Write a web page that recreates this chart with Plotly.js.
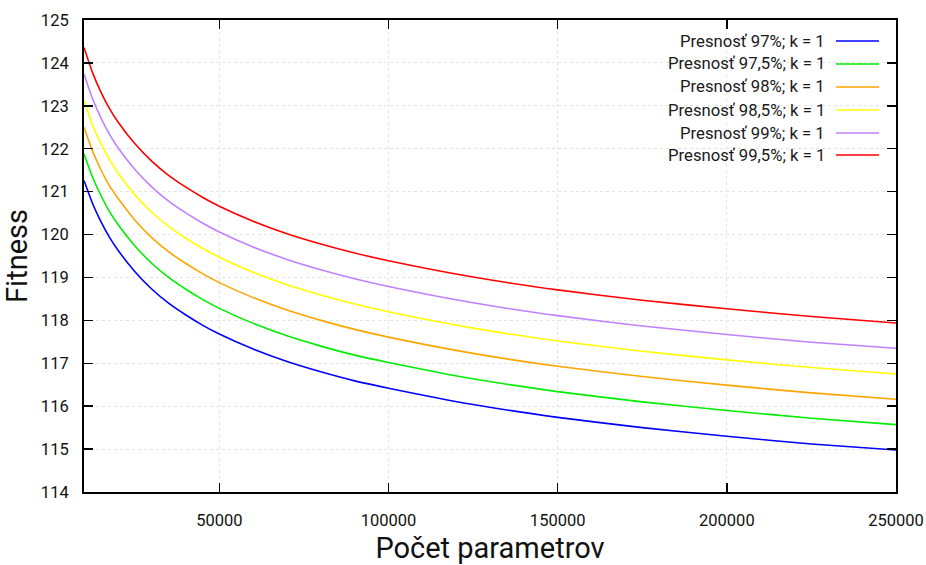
<!DOCTYPE html>
<html>
<head>
<meta charset="utf-8">
<script src="https://cdn.plot.ly/plotly-3.0.1.min.js"></script>
<style>html,body{margin:0;padding:0;background:#fff;}#chart{width:926px;height:565px;}</style>
</head>
<body>
<div id="chart"></div>
<script>
// Data
const params = [10000, 12500, 15000, 17500, 20000, 25000, 30000, 35000, 40000, 45000, 50000,
  60000, 70000, 80000, 90000, 100000, 125000, 150000, 175000, 200000, 225000, 250000];

const acc970 = [121.26, 120.73, 120.30, 119.94, 119.64, 119.14, 118.73, 118.40, 118.13, 117.89, 117.68,
  117.33, 117.04, 116.80, 116.59, 116.42, 116.04, 115.74, 115.50, 115.30, 115.12, 114.98];
const acc975 = [121.88, 121.34, 120.91, 120.54, 120.24, 119.74, 119.33, 119.00, 118.73, 118.49, 118.28,
  117.93, 117.64, 117.40, 117.19, 117.02, 116.64, 116.34, 116.10, 115.90, 115.72, 115.57];
const acc980 = [122.50, 121.95, 121.51, 121.14, 120.85, 120.34, 119.93, 119.60, 119.33, 119.09, 118.88,
  118.53, 118.24, 118.00, 117.79, 117.61, 117.23, 116.93, 116.69, 116.49, 116.31, 116.16];
const acc985 = [123.12, 122.56, 122.12, 121.75, 121.44, 120.93, 120.52, 120.19, 119.92, 119.68, 119.47,
  119.12, 118.83, 118.59, 118.38, 118.20, 117.82, 117.52, 117.28, 117.08, 116.90, 116.75];
const acc990 = [123.74, 123.17, 122.72, 122.34, 122.03, 121.52, 121.11, 120.78, 120.51, 120.27, 120.06,
  119.71, 119.42, 119.18, 118.97, 118.79, 118.41, 118.11, 117.87, 117.67, 117.49, 117.35];
const acc995 = [124.36, 123.78, 123.32, 122.94, 122.63, 122.12, 121.71, 121.38, 121.11, 120.87, 120.66,
  120.31, 120.02, 119.78, 119.57, 119.39, 119.01, 118.71, 118.47, 118.27, 118.09, 117.94];

const seriesNames = ["Presnosť 97%; k = 1", "Presnosť 97,5%; k = 1", "Presnosť 98%; k = 1",
  "Presnosť 98,5%; k = 1", "Presnosť 99%; k = 1", "Presnosť 99,5%; k = 1"];
const seriesValues = [acc970, acc975, acc980, acc985, acc990, acc995];
const seriesColors = ["#0000ff", "#00ee00", "#ffa500", "#ffff00", "#c080ff", "#ff0000"];

const xTicks = [50000, 100000, 150000, 200000, 250000];
const yTicks = [114, 115, 116, 117, 118, 119, 120, 121, 122, 123, 124, 125];

const traces = seriesValues.map((vals, i) => ({
  x: params, y: vals, type: "scatter", mode: "lines", name: seriesNames[i],
  line: {color: seriesColors[i], width: 1.6, shape: "spline", smoothing: 0.6},
  showlegend: false, hoverinfo: "skip"
}));

// Plot area geometry (pixels)
const L = 84, R = 896, T = 20, B = 492;
const px2x = p => (p - L) / (R - L);
const py2y = p => (B - p) / (B - T);

const shapes = [];
const annotations = [];
const rowY = [41, 64, 87, 110, 133, 155];
seriesNames.forEach((nm, i) => {
  annotations.push({
    xref: "paper", yref: "paper", x: px2x(827), y: py2y(rowY[i]),
    xanchor: "right", yanchor: "middle", text: nm, showarrow: false,
    font: {family: "Roboto, sans-serif", size: 16.7, color: "#1a1a1a"}
  });
  shapes.push({
    type: "line", xref: "paper", yref: "paper",
    x0: px2x(836), x1: px2x(879), y0: py2y(rowY[i]), y1: py2y(rowY[i]),
    line: {color: seriesColors[i], width: 1.6}
  });
});

const axisCommon = {
  showline: true, linecolor: "#000", linewidth: 2, mirror: "ticks",
  ticks: "inside", ticklen: 9, tickwidth: 1.5, tickcolor: "#000",
  showgrid: true, gridcolor: "#e4e4e4", griddash: "dot", gridwidth: 1,
  zeroline: false,
  tickfont: {family: "Roboto, sans-serif", size: 16.5, color: "#111"}
};

const layout = {
  width: 926, height: 565,
  margin: {l: L, r: 926 - R, t: T, b: 565 - B},
  paper_bgcolor: "#fff", plot_bgcolor: "#fff",
  showlegend: false,
  xaxis: Object.assign({}, axisCommon, {
    range: [10000, 250000], tickvals: xTicks, ticktext: xTicks.map(String),
    ticklabelstandoff: 12,
    title: {text: "Počet parametrov", font: {family: "Roboto, sans-serif", size: 29, color: "#111"}, standoff: 12}
  }),
  yaxis: Object.assign({}, axisCommon, {
    range: [114, 125], tickvals: yTicks, ticktext: yTicks.map(String),
    ticklabelstandoff: 10,
    title: {text: "Fitness", font: {family: "Roboto, sans-serif", size: 29, color: "#111"}, standoff: 6}
  }),
  shapes: shapes,
  annotations: annotations
};

Plotly.newPlot("chart", traces, layout, {staticPlot: true, displayModeBar: false});
</script>
</body>
</html>
